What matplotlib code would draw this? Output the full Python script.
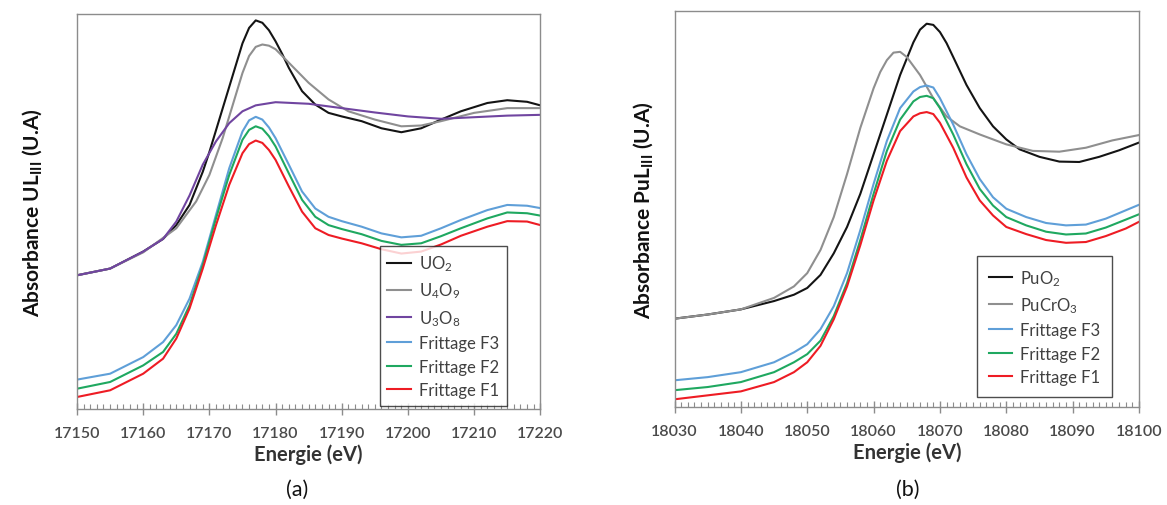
import matplotlib
matplotlib.use("Agg")
import matplotlib.pyplot as plt
from matplotlib.ticker import MultipleLocator

plt.rcParams['font.family'] = ['Lato', 'DejaVu Sans']
plt.rcParams['mathtext.fontset'] = 'custom'
plt.rcParams['mathtext.rm'] = 'Lato'
plt.rcParams['mathtext.it'] = 'Lato'
plt.rcParams['mathtext.bf'] = 'Lato:bold'

# ---------------- Panel (a): U L_III edge ----------------
ea_uo2 = [17150, 17155, 17160, 17163, 17165, 17167, 17169, 17170, 17171, 17172, 17173, 17174,
          17175, 17176, 17177, 17178, 17179, 17180, 17181, 17182, 17184, 17186, 17188, 17190,
          17193, 17196, 17199, 17202, 17205, 17208, 17212, 17215, 17218, 17220]
ya_uo2 = [33.8, 35.5, 39.8, 43.0, 46.5, 51.6, 60.0, 65.0, 70.5, 76.0, 81.5, 87.0,
          92.5, 96.4, 98.3, 97.7, 95.8, 93.0, 89.8, 86.3, 80.4, 77.0, 74.9, 74.0,
          72.8, 71.0, 70.0, 71.0, 73.2, 75.3, 77.4, 78.1, 77.7, 76.8]

ea_u4o9 = [17150, 17155, 17160, 17165, 17168, 17170, 17172, 17174, 17175, 17176, 17177, 17178,
           17179, 17180, 17182, 17185, 17188, 17191, 17195, 17199, 17202, 17205, 17210, 17215,
           17220]
ya_u4o9 = [33.8, 35.5, 39.6, 45.7, 52.5, 59.2, 68.5, 79.5, 85.0, 89.3, 91.6, 92.2,
           91.9, 91.0, 87.6, 82.5, 78.3, 75.3, 73.2, 71.5, 71.7, 72.8, 74.9, 76.1,
           76.1]

ea_u3o8 = [17150, 17155, 17160, 17163, 17165, 17167, 17169, 17171, 17173, 17175, 17177, 17180,
           17185, 17190, 17195, 17200, 17205, 17210, 17215, 17220]
ya_u3o8 = [33.8, 35.5, 39.8, 43.0, 47.4, 54.0, 61.8, 67.7, 72.3, 75.3, 76.8, 77.6,
           77.2, 76.1, 75.0, 74.0, 73.4, 73.8, 74.2, 74.4]

ea_fr = [17150, 17155, 17160, 17163, 17165, 17167, 17169, 17171, 17173, 17175, 17176, 17177,
         17178, 17179, 17180, 17182, 17184, 17186, 17188, 17190, 17193, 17196, 17199, 17202,
         17205, 17208, 17212, 17215, 17218, 17220]
ya_f3 = [7.4, 8.9, 13.1, 16.9, 21.2, 27.9, 37.2, 49.1, 60.9, 70.2, 73.0, 73.9,
         73.2, 71.2, 68.5, 61.8, 55.0, 50.7, 48.6, 47.5, 46.1, 44.4, 43.4, 43.8,
         45.7, 47.8, 50.3, 51.6, 51.4, 50.8]
ya_f2 = [5.1, 6.8, 11.0, 14.4, 19.0, 26.2, 36.4, 48.2, 59.2, 68.1, 70.6, 71.5,
         70.9, 69.0, 66.4, 59.6, 52.9, 48.6, 46.5, 45.5, 44.2, 42.5, 41.5, 41.9,
         43.7, 45.7, 48.2, 49.7, 49.5, 48.9]
ya_f1 = [3.0, 4.7, 8.9, 12.7, 17.8, 25.4, 35.5, 46.5, 56.7, 64.7, 67.0, 67.9,
         67.3, 65.5, 63.0, 56.3, 49.9, 45.7, 44.0, 43.1, 41.9, 40.4, 39.3, 39.8,
         41.6, 43.8, 46.1, 47.5, 47.4, 46.5]

# ---------------- Panel (b): Pu L_III edge ----------------
eb_puo2 = [18030, 18035, 18040, 18045, 18048, 18050, 18052, 18054, 18056, 18058, 18060, 18062,
           18064, 18066, 18067, 18068, 18069, 18070, 18071, 18072, 18074, 18076, 18078, 18080,
           18082, 18085, 18088, 18091, 18094, 18097, 18100]
yb_puo2 = [22.25, 23.3, 24.6, 26.7, 28.3, 30.0, 33.3, 38.75, 45.4, 53.75, 63.75, 73.75,
           83.75, 92.0, 95.2, 96.7, 96.4, 94.6, 91.8, 88.3, 81.25, 75.4, 70.8, 67.5,
           65.0, 63.1, 61.9, 61.8, 63.1, 64.75, 66.7]

eb_pucro3 = [18030, 18035, 18040, 18045, 18048, 18050, 18052, 18054, 18056, 18058, 18060, 18061,
             18062, 18063, 18064, 18065, 18067, 18069, 18071, 18073, 18076, 18080, 18084, 18088,
             18092, 18096, 18100]
yb_pucro3 = [22.25, 23.3, 24.6, 27.5, 30.4, 33.75, 39.6, 47.9, 58.75, 70.4, 80.4, 84.5,
             87.5, 89.4, 89.6, 88.3, 83.75, 77.9, 73.3, 70.8, 68.75, 66.25, 64.6, 64.4,
             65.4, 67.25, 68.6]

eb_fr = [18030, 18035, 18040, 18045, 18048, 18050, 18052, 18054, 18056, 18058, 18060, 18062,
         18064, 18066, 18067, 18068, 18069, 18070, 18072, 18074, 18076, 18078, 18080, 18083,
         18086, 18089, 18092, 18095, 18098, 18100]
yb_f3 = [6.7, 7.5, 8.75, 11.25, 13.75, 15.8, 19.6, 25.4, 33.75, 44.6, 56.25, 67.1,
         75.4, 79.6, 80.7, 81.1, 80.6, 77.9, 71.25, 63.75, 57.5, 52.9, 50.0, 47.9,
         46.4, 45.8, 46.0, 47.5, 49.6, 51.0]
yb_f2 = [4.2, 5.0, 6.25, 8.75, 11.25, 13.3, 16.7, 22.9, 31.25, 42.1, 53.75, 64.6,
         72.5, 77.1, 78.2, 78.5, 77.9, 75.4, 68.75, 61.25, 55.0, 50.8, 47.9, 45.8,
         44.2, 43.5, 43.75, 45.25, 47.25, 48.6]
yb_f1 = [1.9, 2.9, 3.9, 6.25, 8.75, 11.25, 15.4, 22.1, 30.4, 40.8, 52.1, 62.1,
         69.6, 73.3, 74.1, 74.4, 73.9, 71.7, 65.4, 57.9, 52.1, 48.3, 45.4, 43.6,
         42.1, 41.4, 41.6, 43.1, 45.0, 46.7]

xticks_a = [17150, 17160, 17170, 17180, 17190, 17200, 17210, 17220]
xticks_b = [18030, 18040, 18050, 18060, 18070, 18080, 18090, 18100]

C_BLACK = '#141414'
C_GRAY = '#8f8f8f'
C_PURPLE = '#7045a0'
C_BLUE = '#5f9fd8'
C_GREEN = '#1fa860'
C_RED = '#ee1c24'
LW = 1.5

fig = plt.figure(figsize=(11.67, 5.06), dpi=100)
axa = fig.add_axes([0.066, 0.190, 0.397, 0.781])
axb = fig.add_axes([0.578, 0.194, 0.398, 0.783])


def style(ax, xticks):
    ax.set_xlim(xticks[0], xticks[-1])
    ax.set_ylim(0, 100)
    ax.set_xticks(xticks)
    ax.set_xticklabels([str(t) for t in xticks])
    ax.xaxis.set_minor_locator(MultipleLocator(1))
    ax.set_yticks([])
    for s in ax.spines.values():
        s.set_color('#8c8c8c')
        s.set_linewidth(1.0)
    ax.tick_params(axis='x', which='major', direction='inout', length=9, width=1.0,
                   color='#8c8c8c', labelsize=11.5, labelcolor='#4a4a4a', pad=8)
    ax.tick_params(axis='x', which='minor', direction='in', length=3.5, width=0.8,
                   color='#8c8c8c')
    ax.tick_params(axis='x', top=False, which='both')
    for lab in ax.get_xticklabels():
        lab.set_fontweight('semibold')
    ax.set_xlabel('Energie (eV)', fontsize=14.5, fontweight='bold', color='#333333', labelpad=2)


# Panel (a)
axa.plot(ea_uo2, ya_uo2, color=C_BLACK, lw=LW, label='UO$_2$')
axa.plot(ea_u4o9, ya_u4o9, color=C_GRAY, lw=LW, label='U$_4$O$_9$')
axa.plot(ea_u3o8, ya_u3o8, color=C_PURPLE, lw=LW, label='U$_3$O$_8$')
axa.plot(ea_fr, ya_f3, color=C_BLUE, lw=LW, label='Frittage F3')
axa.plot(ea_fr, ya_f2, color=C_GREEN, lw=LW, label='Frittage F2')
axa.plot(ea_fr, ya_f1, color=C_RED, lw=LW, label='Frittage F1')
style(axa, xticks_a)
axa.set_ylabel(r'Absorbance UL$_{\mathbf{III}}$ (U.A)', fontsize=15, fontweight='bold',
               color='#111111', labelpad=24)
lega = axa.legend(loc='lower right', bbox_to_anchor=(0.927, 0.008), fontsize=12,
                  frameon=True, fancybox=False, edgecolor='#202020', handlelength=1.4,
                  handletextpad=0.5, labelspacing=0.45, borderpad=0.45, borderaxespad=0)
lega.get_frame().set_linewidth(1.0)
for t in lega.get_texts():
    t.set_color('#404040')

# Panel (b)
axb.plot(eb_puo2, yb_puo2, color=C_BLACK, lw=LW, label='PuO$_2$')
axb.plot(eb_pucro3, yb_pucro3, color=C_GRAY, lw=LW, label='PuCrO$_3$')
axb.plot(eb_fr, yb_f3, color=C_BLUE, lw=LW, label='Frittage F3')
axb.plot(eb_fr, yb_f2, color=C_GREEN, lw=LW, label='Frittage F2')
axb.plot(eb_fr, yb_f1, color=C_RED, lw=LW, label='Frittage F1')
style(axb, xticks_b)
axb.set_ylabel(r'Absorbance PuL$_{\mathbf{III}}$ (U.A)', fontsize=15, fontweight='bold',
               color='#111111', labelpad=14)
legb = axb.legend(loc='lower right', bbox_to_anchor=(0.942, 0.025), fontsize=12,
                  frameon=True, fancybox=False, edgecolor='#202020', handlelength=1.4,
                  handletextpad=0.5, labelspacing=0.45, borderpad=0.7, borderaxespad=0)
legb.get_frame().set_linewidth(1.0)
for t in legb.get_texts():
    t.set_color('#404040')

fig.text(0.255, 0.02, '(a)', fontsize=15.5, ha='center', color='#111111')
fig.text(0.778, 0.02, '(b)', fontsize=15.5, ha='center', color='#111111')

fig.savefig('out.png', dpi=100)
